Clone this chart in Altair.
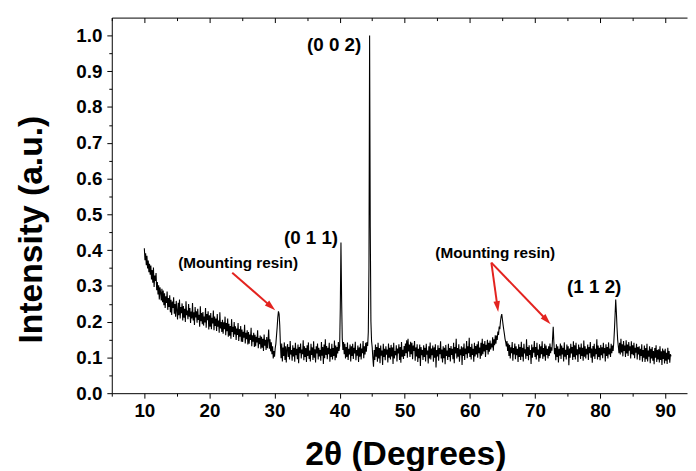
import math
import altair as alt
import pandas as pd

# ---------------- data (one row per degree, 0.1 deg step) ----------------
two_theta_start = 10.0
two_theta_step = 0.1
intensity = [
    0.405, 0.372, 0.391, 0.358, 0.384, 0.349, 0.371, 0.338, 0.362, 0.331,  # 10
    0.357, 0.318, 0.344, 0.309, 0.351, 0.297, 0.329, 0.314, 0.336, 0.288,  # 11
    0.311, 0.276, 0.302, 0.262, 0.296, 0.281, 0.259, 0.292, 0.254, 0.287,  # 12
    0.246, 0.279, 0.238, 0.271, 0.252, 0.284, 0.233, 0.266, 0.241, 0.274,  # 13
    0.226, 0.261, 0.219, 0.256, 0.238, 0.268, 0.222, 0.249, 0.214, 0.258,  # 14
    0.231, 0.206, 0.253, 0.218, 0.262, 0.209, 0.241, 0.224, 0.251, 0.203,  # 15
    0.244, 0.211, 0.236, 0.199, 0.257, 0.218, 0.231, 0.207, 0.249, 0.214,  # 16
    0.238, 0.196, 0.228, 0.209, 0.252, 0.203, 0.226, 0.191, 0.241, 0.212,  # 17
    0.229, 0.197, 0.236, 0.205, 0.219, 0.186, 0.243, 0.201, 0.224, 0.193,  # 18
    0.227, 0.189, 0.214, 0.198, 0.238, 0.183, 0.221, 0.204, 0.229, 0.178,  # 19
    0.218, 0.186, 0.224, 0.179, 0.211, 0.195, 0.231, 0.176, 0.214, 0.188,  # 20
    0.209, 0.174, 0.221, 0.186, 0.203, 0.169, 0.226, 0.181, 0.199, 0.171,  # 21
    0.205, 0.166, 0.198, 0.179, 0.214, 0.162, 0.196, 0.173, 0.209, 0.158,  # 22
    0.194, 0.161, 0.188, 0.152, 0.207, 0.171, 0.186, 0.157, 0.199, 0.164,  # 23
    0.187, 0.149, 0.181, 0.163, 0.196, 0.146, 0.179, 0.158, 0.188, 0.144,  # 24
    0.178, 0.143, 0.172, 0.155, 0.191, 0.139, 0.169, 0.151, 0.176, 0.136,  # 25
    0.171, 0.138, 0.164, 0.149, 0.183, 0.131, 0.162, 0.144, 0.169, 0.129,  # 26
    0.163, 0.131, 0.158, 0.142, 0.176, 0.126, 0.154, 0.137, 0.161, 0.124,  # 27
    0.158, 0.127, 0.152, 0.118, 0.164, 0.133, 0.149, 0.121, 0.157, 0.126,  # 28
    0.148, 0.178, 0.124, 0.151, 0.117, 0.142, 0.109, 0.131, 0.097, 0.118,  # 29
    0.102, 0.126, 0.138, 0.161, 0.184, 0.212, 0.229, 0.221, 0.189, 0.137,  # 30
    0.098, 0.139, 0.089, 0.128, 0.104, 0.142, 0.093, 0.131, 0.086, 0.124,  # 31
    0.137, 0.101, 0.129, 0.094, 0.146, 0.108, 0.121, 0.091, 0.134, 0.103,  # 32
    0.127, 0.088, 0.141, 0.106, 0.124, 0.095, 0.136, 0.084, 0.129, 0.112,  # 33
    0.139, 0.097, 0.122, 0.109, 0.148, 0.092, 0.131, 0.101, 0.126, 0.087,  # 34
    0.134, 0.104, 0.142, 0.096, 0.119, 0.089, 0.138, 0.107, 0.128, 0.093,  # 35
    0.145, 0.099, 0.123, 0.086, 0.131, 0.111, 0.139, 0.094, 0.127, 0.103,  # 36
    0.121, 0.091, 0.143, 0.105, 0.129, 0.082, 0.136, 0.098, 0.151, 0.107,  # 37
    0.132, 0.095, 0.127, 0.109, 0.141, 0.088, 0.124, 0.101, 0.138, 0.094,  # 38
    0.126, 0.104, 0.147, 0.092, 0.133, 0.099, 0.129, 0.111, 0.143, 0.118,  # 39
    0.132, 0.241, 0.421, 0.262, 0.154, 0.121, 0.143, 0.109, 0.138, 0.097,  # 40
    0.129, 0.101, 0.142, 0.093, 0.124, 0.108, 0.136, 0.089, 0.131, 0.104,  # 41
    0.138, 0.096, 0.127, 0.111, 0.144, 0.092, 0.121, 0.105, 0.133, 0.087,  # 42
    0.128, 0.102, 0.139, 0.094, 0.125, 0.112, 0.146, 0.098, 0.131, 0.108,  # 43
    0.141, 0.116, 0.143, 0.132, 0.171, 0.352, 1.000, 0.463, 0.201, 0.146,  # 44
    0.128, 0.097, 0.074, 0.121, 0.093, 0.136, 0.102, 0.129, 0.088, 0.141,  # 45
    0.097, 0.126, 0.084, 0.133, 0.105, 0.119, 0.079, 0.138, 0.101, 0.124,  # 46
    0.092, 0.131, 0.108, 0.122, 0.086, 0.139, 0.099, 0.127, 0.094, 0.135,  # 47
    0.103, 0.128, 0.082, 0.141, 0.097, 0.118, 0.106, 0.134, 0.089, 0.125,  # 48
    0.111, 0.137, 0.093, 0.129, 0.085, 0.143, 0.102, 0.121, 0.096, 0.132,  # 49
    0.104, 0.139, 0.112, 0.148, 0.099, 0.152, 0.117, 0.136, 0.101, 0.144,  # 50
    0.109, 0.141, 0.095, 0.133, 0.118, 0.146, 0.091, 0.128, 0.103, 0.137,  # 51
    0.087, 0.124, 0.098, 0.136, 0.076, 0.129, 0.106, 0.121, 0.093, 0.134,  # 52
    0.101, 0.127, 0.089, 0.138, 0.108, 0.119, 0.083, 0.131, 0.097, 0.142,  # 53
    0.094, 0.125, 0.106, 0.133, 0.088, 0.128, 0.099, 0.137, 0.072, 0.121,  # 54
    0.103, 0.134, 0.091, 0.126, 0.109, 0.145, 0.097, 0.122, 0.086, 0.131,  # 55
    0.098, 0.127, 0.081, 0.135, 0.104, 0.119, 0.093, 0.138, 0.101, 0.126,  # 56
    0.089, 0.132, 0.107, 0.124, 0.095, 0.141, 0.084, 0.129, 0.111, 0.152,  # 57
    0.097, 0.126, 0.102, 0.137, 0.088, 0.123, 0.106, 0.131, 0.079, 0.128,  # 58
    0.104, 0.139, 0.093, 0.125, 0.109, 0.146, 0.098, 0.131, 0.112, 0.155,  # 59
    0.101, 0.129, 0.094, 0.138, 0.107, 0.124, 0.088, 0.141, 0.103, 0.132,  # 60
    0.108, 0.137, 0.099, 0.145, 0.112, 0.128, 0.096, 0.141, 0.105, 0.152,  # 61
    0.109, 0.138, 0.117, 0.146, 0.101, 0.135, 0.121, 0.149, 0.108, 0.141,  # 62
    0.116, 0.147, 0.122, 0.139, 0.128, 0.156, 0.119, 0.151, 0.134, 0.162,  # 63
    0.138, 0.161, 0.149, 0.172, 0.163, 0.186, 0.179, 0.201, 0.214, 0.221,  # 64
    0.206, 0.191, 0.178, 0.166, 0.152, 0.143, 0.131, 0.146, 0.118, 0.139,  # 65
    0.104, 0.135, 0.097, 0.128, 0.112, 0.143, 0.091, 0.126, 0.108, 0.139,  # 66
    0.095, 0.131, 0.106, 0.124, 0.087, 0.137, 0.101, 0.129, 0.093, 0.144,  # 67
    0.102, 0.127, 0.089, 0.138, 0.111, 0.123, 0.096, 0.151, 0.104, 0.129,  # 68
    0.092, 0.134, 0.107, 0.121, 0.082, 0.136, 0.099, 0.128, 0.113, 0.146,  # 69
    0.101, 0.129, 0.094, 0.141, 0.106, 0.122, 0.088, 0.137, 0.098, 0.131,  # 70
    0.109, 0.145, 0.096, 0.126, 0.103, 0.138, 0.091, 0.133, 0.107, 0.124,  # 71
    0.097, 0.131, 0.104, 0.139, 0.112, 0.128, 0.119, 0.152, 0.186, 0.143,  # 72
    0.109, 0.126, 0.092, 0.137, 0.101, 0.131, 0.086, 0.124, 0.105, 0.139,  # 73
    0.096, 0.133, 0.108, 0.127, 0.089, 0.142, 0.102, 0.121, 0.094, 0.136,  # 74
    0.107, 0.131, 0.078, 0.125, 0.099, 0.138, 0.111, 0.129, 0.093, 0.145,  # 75
    0.101, 0.134, 0.094, 0.141, 0.106, 0.123, 0.087, 0.136, 0.109, 0.128,  # 76
    0.096, 0.139, 0.104, 0.127, 0.091, 0.147, 0.102, 0.131, 0.097, 0.124,  # 77
    0.108, 0.136, 0.093, 0.129, 0.112, 0.143, 0.099, 0.125, 0.085, 0.132,  # 78
    0.103, 0.138, 0.096, 0.124, 0.109, 0.151, 0.094, 0.133, 0.101, 0.127,  # 79
    0.092, 0.135, 0.106, 0.128, 0.098, 0.141, 0.111, 0.126, 0.089, 0.137,  # 80
    0.104, 0.129, 0.097, 0.142, 0.108, 0.125, 0.101, 0.138, 0.112, 0.133,  # 81
    0.118, 0.141, 0.176, 0.218, 0.262, 0.227, 0.183, 0.149, 0.131, 0.112,  # 82
    0.141, 0.108, 0.152, 0.114, 0.137, 0.103, 0.146, 0.118, 0.133, 0.101,  # 83
    0.148, 0.111, 0.136, 0.104, 0.143, 0.119, 0.131, 0.097, 0.145, 0.109,  # 84
    0.134, 0.106, 0.141, 0.098, 0.127, 0.113, 0.138, 0.094, 0.129, 0.108,  # 85
    0.131, 0.092, 0.124, 0.104, 0.137, 0.088, 0.121, 0.099, 0.133, 0.087,  # 86
    0.126, 0.095, 0.138, 0.089, 0.119, 0.102, 0.131, 0.084, 0.124, 0.097,  # 87
    0.129, 0.091, 0.118, 0.081, 0.126, 0.099, 0.134, 0.087, 0.121, 0.094,  # 88
    0.123, 0.086, 0.131, 0.093, 0.117, 0.079, 0.125, 0.096, 0.119, 0.083,  # 89
    0.124, 0.091, 0.113, 0.082, 0.127, 0.094, 0.118, 0.085, 0.109, 0.103,  # 90
]
two_theta = [round(two_theta_start + two_theta_step * i, 1) for i in range(len(intensity))]

label_text = ["(0 0 2)", "(0 1 1)", "(1 1 2)", "(Mounting resin)", "(Mounting resin)"]
label_x = [39.15, 35.6, 79.1, 24.4, 63.9]
label_y = [0.972, 0.434, 0.296, 0.365, 0.392]
label_size = [19, 19, 19, 15.5, 15.5]

arrow_x0 = [23.5, 63.3, 63.3]
arrow_y0 = [0.337, 0.365, 0.365]
arrow_x1 = [30.1, 64.35, 72.4]
arrow_y1 = [0.232, 0.227, 0.193]

x_ticks = [5, 10, 15, 20, 25, 30, 35, 40, 45, 50, 55, 60, 65, 70, 75, 80, 85, 90]
y_ticks = [round(0.05 * i, 2) for i in range(21)]

# ---------------- layout ----------------
X_DOMAIN = [5, 93.35]
Y_DOMAIN = [0, 1.05]
W, H = 582, 380
FONT = "Liberation Sans"
RED = "#e3231f"

px_x = W / (X_DOMAIN[1] - X_DOMAIN[0])
px_y = H / (Y_DOMAIN[1] - Y_DOMAIN[0])
HEAD = 11.0

rows = []
for x0, y0, x1, y1 in zip(arrow_x0, arrow_y0, arrow_x1, arrow_y1):
    dx = (x1 - x0) * px_x
    dy = -(y1 - y0) * px_y
    L = math.hypot(dx, dy)
    ux, uy = dx / L, dy / L
    cx = x1 - (HEAD / 2 * ux) / px_x
    cy = y1 + (HEAD / 2 * uy) / px_y
    ang = math.degrees(math.atan2(dx, -dy)) % 360
    rows.append({"x0": x0, "y0": y0, "cx": cx, "cy": cy, "angle": ang})
arrows = pd.DataFrame(rows)

pattern = pd.DataFrame({"t": two_theta, "i": intensity})
labels = pd.DataFrame({"text": label_text, "x": label_x, "y": label_y, "size": label_size})

xscale = alt.Scale(domain=X_DOMAIN, nice=False, zero=False)
yscale = alt.Scale(domain=Y_DOMAIN, nice=False, zero=False)

x_tick_size = {"condition": {"test": "datum.value % 10 === 0", "value": 5}, "value": 3}
y_tick_size = {"condition": {"test": "round(datum.value * 20) % 2 === 0", "value": 5}, "value": 3}

bottom_axis = alt.Axis(
    orient="bottom", values=x_ticks,
    labelExpr="datum.value % 10 === 0 ? format(datum.value, 'd') : ''",
    tickSize=x_tick_size, labelPadding=4, labelFlush=False, labelOverlap=False,
    title="2θ (Degrees)", titleFontSize=34, titleX=297, titleY=72,
    titleBaseline="alphabetic", titleAnchor="middle",
)
top_axis = alt.Axis(
    orient="bottom", offset=-H, values=x_ticks, labels=False,
    tickSize=x_tick_size, title="",
)
left_axis = alt.Axis(
    orient="left", values=y_ticks,
    labelExpr="round(datum.value * 20) % 2 === 0 ? format(datum.value, '.1f') : ''",
    tickSize=y_tick_size, labelPadding=5, labelFlush=False, labelOverlap=False,
    title="Intensity (a.u.)", titleFontSize=34, titleX=-71, titleY=214,
    titleBaseline="alphabetic", titleAngle=270,
)

line = alt.Chart(pattern).mark_line(color="black", strokeWidth=1.1).encode(
    x=alt.X("t:Q", scale=xscale, axis=bottom_axis),
    y=alt.Y("i:Q", scale=yscale, axis=left_axis),
)

top = alt.Chart(pattern).mark_point(opacity=0).encode(
    x=alt.X("t:Q", scale=xscale, axis=top_axis),
    y=alt.Y("i:Q", scale=yscale, axis=None),
)

shafts = alt.Chart(arrows).mark_rule(color=RED, strokeWidth=2).encode(
    x=alt.X("x0:Q", scale=xscale, axis=None),
    y=alt.Y("y0:Q", scale=yscale, axis=None),
    x2="cx:Q",
    y2="cy:Q",
)

heads = alt.Chart(arrows).mark_point(
    shape="M0,-1L0.6,1L-0.6,1Z", filled=True, color=RED, opacity=1, size=HEAD * HEAD, strokeWidth=0
).encode(
    x=alt.X("cx:Q", scale=xscale, axis=None),
    y=alt.Y("cy:Q", scale=yscale, axis=None),
    angle=alt.Angle("angle:Q", scale=None),
)

texts = alt.Chart(labels).mark_text(
    font=FONT, fontWeight="bold", color="black", align="center", baseline="middle"
).encode(
    x=alt.X("x:Q", scale=xscale, axis=None),
    y=alt.Y("y:Q", scale=yscale, axis=None),
    text="text:N",
    size=alt.Size("size:Q", scale=None),
)

chart = (
    alt.layer(line, top, shafts, heads, texts)
    .resolve_axis(x="independent", y="independent")
    .properties(
        width=W, height=H,
        autosize=alt.AutoSizeParams(type="none"),
        padding={"left": 105, "top": 7, "right": 1, "bottom": 76},
        background="white",
    )
    .configure_view(strokeWidth=0)
    .configure_axis(
        grid=False, domainColor="black", domainWidth=1, tickColor="black", tickWidth=1,
        labelFont=FONT, labelFontWeight="bold", labelFontSize=19, labelColor="black",
        titleFont=FONT, titleFontWeight="bold", titleColor="black",
    )
)

chart.save("out.html", embed_options={"renderer": "svg", "actions": False})
